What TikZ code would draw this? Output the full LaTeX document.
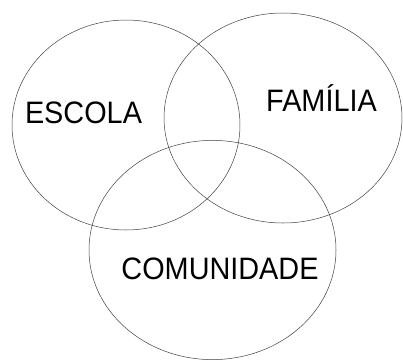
\documentclass[tikz,border=0pt]{standalone}
\usepackage{fontspec}
\setmainfont{Liberation Sans}
\tikzset{conj/.style={draw=black!75,line width=.5pt},
	rotulo/.style={inner sep=0pt,anchor=base,xscale=.93,font=\fontsize{31}{34}\selectfont}}
\begin{document}
\begin{tikzpicture}[x=1pt,y=1pt]
		\useasboundingbox (0,0) rectangle (403,360);
		\draw[conj] (126,235) ellipse [x radius=114,y radius=105];
		\draw[conj] (283,242) ellipse [x radius=119,y radius=105];
		\draw[conj] (212.5,110) ellipse [x radius=123.5,y radius=109.6];

		\node[rotulo] (escola) at (83.5,237){ESCOLA};
		\node[rotulo] (familia) at (321.5,249){FAMÍLIA};
		\node[rotulo] (comunidade) at (220,81){COMUNIDADE};
	\end{tikzpicture}
\end{document}
